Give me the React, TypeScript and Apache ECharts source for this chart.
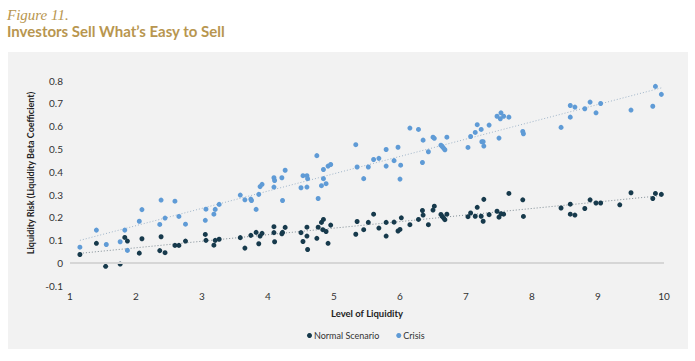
import React, { useEffect, useRef } from "react";
import * as echarts from "echarts";

const titleText = "Figure 11.";
const subtitleText = "Investors Sell What\u2019s Easy to Sell";
const xAxisName = "Level of Liquidity";
const yAxisName = "Liquidity Risk (Liquidity Beta Coefficient)";
const seriesNames = ["Normal Scenario", "Crisis"];

const normalX = [
  1.15, 1.40, 1.54, 1.76, 1.83, 1.87, 2.05, 2.09, 2.36, 2.38, 2.44, 2.59, 2.65, 2.75,
  3.05, 3.06, 3.18, 3.20, 3.26, 3.58, 3.65, 3.74, 3.82, 3.86, 3.88, 3.91, 4.09, 4.09,
  4.10, 4.21, 4.22, 4.26, 4.50, 4.53, 4.59, 4.59, 4.60, 4.74, 4.76, 4.81, 4.84, 4.83,
  4.88, 4.91, 4.95, 5.33, 5.35, 5.45, 5.52, 5.60, 5.68, 5.79, 5.79, 5.91, 5.97, 6.00,
  6.02, 6.15, 6.28, 6.34, 6.35, 6.43, 6.50, 6.52, 6.62, 6.64, 6.66, 6.68, 6.71, 7.03,
  7.07, 7.14, 7.17, 7.23, 7.26, 7.27, 7.35, 7.47, 7.50, 7.53, 7.57, 7.65, 7.86, 7.87,
  8.44, 8.58, 8.58, 8.65, 8.80, 8.88, 8.97, 9.04, 9.33, 9.50, 9.83, 9.87, 9.96,
];
const normalY = [
  0.037, 0.086, -0.015, -0.005, 0.112, 0.096, 0.043, 0.106, 0.054, 0.115, 0.045, 0.077, 0.077, 0.096,
  0.125, 0.099, 0.078, 0.099, 0.104, 0.111, 0.065, 0.121, 0.134, 0.084, 0.118, 0.130, 0.159, 0.133,
  0.093, 0.128, 0.134, 0.156, 0.133, 0.094, 0.157, 0.118, 0.059, 0.108, 0.157, 0.178, 0.191, 0.146,
  0.138, 0.086, 0.166, 0.126, 0.182, 0.146, 0.178, 0.214, 0.153, 0.178, 0.118, 0.179, 0.140, 0.147,
  0.198, 0.168, 0.191, 0.230, 0.210, 0.168, 0.232, 0.249, 0.213, 0.204, 0.198, 0.190, 0.214, 0.203,
  0.219, 0.205, 0.244, 0.205, 0.183, 0.279, 0.212, 0.227, 0.201, 0.216, 0.214, 0.305, 0.277, 0.204,
  0.241, 0.258, 0.214, 0.210, 0.239, 0.277, 0.263, 0.263, 0.255, 0.308, 0.283, 0.305, 0.301,
];

const crisisX = [
  1.15, 1.40, 1.55, 1.76, 1.83, 1.87, 2.05, 2.09, 2.36, 2.38, 2.44, 2.59, 2.65, 2.75,
  3.05, 3.06, 3.18, 3.20, 3.26, 3.58, 3.65, 3.74, 3.75, 3.82, 3.86, 3.88, 3.91, 4.09,
  4.10, 4.09, 4.21, 4.22, 4.26, 4.50, 4.53, 4.59, 4.59, 4.60, 4.74, 4.76, 4.81, 4.84,
  4.84, 4.88, 4.91, 4.95, 5.33, 5.35, 5.45, 5.52, 5.60, 5.68, 5.79, 5.79, 5.91, 5.97,
  6.00, 6.01, 6.15, 6.28, 6.34, 6.35, 6.43, 6.50, 6.52, 6.62, 6.64, 6.66, 6.68, 6.71,
  7.03, 7.07, 7.14, 7.17, 7.23, 7.24, 7.26, 7.27, 7.35, 7.47, 7.50, 7.52, 7.53, 7.57,
  7.65, 7.86, 7.87, 8.44, 8.58, 8.58, 8.65, 8.80, 8.88, 8.97, 9.04, 9.33, 9.50, 9.83,
  9.87, 9.96,
];
const crisisY = [
  0.069, 0.144, 0.081, 0.093, 0.144, 0.055, 0.183, 0.234, 0.169, 0.276, 0.197, 0.271, 0.204, 0.170,
  0.187, 0.236, 0.214, 0.235, 0.257, 0.298, 0.277, 0.280, 0.274, 0.235, 0.301, 0.335, 0.345, 0.374,
  0.362, 0.333, 0.374, 0.274, 0.407, 0.330, 0.383, 0.383, 0.333, 0.370, 0.471, 0.283, 0.339, 0.410,
  0.370, 0.348, 0.425, 0.432, 0.519, 0.421, 0.370, 0.421, 0.454, 0.459, 0.498, 0.425, 0.449, 0.508,
  0.368, 0.429, 0.592, 0.586, 0.441, 0.539, 0.488, 0.552, 0.547, 0.517, 0.511, 0.504, 0.497, 0.552,
  0.507, 0.555, 0.573, 0.607, 0.586, 0.532, 0.532, 0.513, 0.605, 0.644, 0.548, 0.633, 0.659, 0.644,
  0.640, 0.577, 0.567, 0.595, 0.691, 0.640, 0.684, 0.677, 0.706, 0.659, 0.700, 0.801, 0.671, 0.688,
  0.775, 0.740,
];

// trend line endpoints [x, y]
const normalTrend = [
  [1.15, 0.042],
  [9.98, 0.296],
];
const crisisTrend = [
  [1.15, 0.099],
  [9.98, 0.77],
];

const xTicks = { min: 1, max: 10, interval: 1 };
const yTicks = { min: -0.1, max: 0.8, interval: 0.1 };

const GOLD = "#b8964f";
const NAVY = "#173a4c";
const BLUE = "#5f9bd6";
const FONT = "Lato";

export default function App() {
  const ref = useRef<HTMLDivElement>(null);

  useEffect(() => {
    if (!ref.current) return;
    const chart = echarts.init(ref.current, undefined, { renderer: "svg" });
    const normalData = normalX.map((x, i) => [x, normalY[i]]);
    const crisisData = crisisX.map((x, i) => [x, crisisY[i]]);

    chart.setOption({
      animation: false,
      backgroundColor: "#ffffff",
      textStyle: { fontFamily: FONT },
      title: [
        {
          text: titleText,
          left: 7,
          top: 7,
          padding: 0,
          textStyle: {
            fontFamily: "Liberation Serif",
            fontStyle: "italic",
            fontWeight: "normal",
            fontSize: 15,
            color: GOLD,
          },
        },
        {
          text: subtitleText,
          left: 7,
          top: 23,
          padding: 0,
          textStyle: {
            fontFamily: FONT,
            fontWeight: "bold",
            fontSize: 15,
            color: GOLD,
          },
        },
      ],
      graphic: [
        {
          type: "rect",
          z: -100,
          silent: true,
          shape: { x: 8, y: 52, width: 680, height: 297 },
          style: { fill: "#f2f2f2" },
        },
        {
          type: "text",
          z: 10,
          x: 30,
          y: 173,
          rotation: Math.PI / 2,
          silent: true,
          style: {
            text: yAxisName,
            align: "center",
            verticalAlign: "middle",
            fontFamily: FONT,
            fontWeight: "bold",
            fontSize: 9,
            fill: "#222222",
          },
        },
      ],
      legend: {
        data: seriesNames,
        left: 307,
        top: 331,
        icon: "circle",
        itemWidth: 5,
        itemHeight: 5,
        itemGap: 17,
        padding: 0,
        textStyle: { fontFamily: FONT, fontSize: 9, color: "#333333", padding: [0, 0, 0, -3] },
      },
      grid: { left: 70, right: 31, top: 80.7, bottom: 75.3 },
      xAxis: {
        type: "value",
        min: xTicks.min,
        max: xTicks.max,
        interval: xTicks.interval,
        name: xAxisName,
        nameLocation: "middle",
        nameGap: 23,
        nameTextStyle: { fontFamily: FONT, fontWeight: "bold", fontSize: 9.5, color: "#222222" },
        axisLine: { show: false },
        axisTick: { show: false },
        splitLine: { show: false },
        axisLabel: { fontFamily: FONT, fontSize: 10, color: "#333333", margin: 5 },
      },
      yAxis: {
        type: "value",
        min: yTicks.min,
        max: yTicks.max,
        interval: yTicks.interval,
        axisLine: { show: false },
        axisTick: { show: false },
        splitLine: { show: false },
        axisLabel: {
          fontFamily: FONT,
          fontSize: 10,
          color: "#333333",
          margin: 7,
          formatter: (v: number) => String(Number(v.toFixed(1)) || 0),
        },
      },
      series: [
        {
          name: "Normal trend",
          type: "line",
          data: normalTrend,
          showSymbol: false,
          symbol: "none",
          z: 1,
          silent: true,
          lineStyle: { color: "#7f8c94", width: 1, type: [1, 2] },
          markLine: {
            silent: true,
            symbol: "none",
            label: { show: false },
            lineStyle: { color: "#d6d6d6", width: 2, type: "solid" },
            data: [{ yAxis: 0 }],
          },
        },
        {
          name: "Crisis trend",
          type: "line",
          data: crisisTrend,
          showSymbol: false,
          symbol: "none",
          z: 1,
          silent: true,
          lineStyle: { color: "#9fb4c8", width: 1, type: [1, 2] },
        },
        {
          name: seriesNames[0],
          type: "scatter",
          data: normalData,
          symbolSize: 5,
          z: 3,
          itemStyle: { color: NAVY, opacity: 1 },
        },
        {
          name: seriesNames[1],
          type: "scatter",
          data: crisisData,
          symbolSize: 5,
          z: 3,
          itemStyle: { color: BLUE, opacity: 1 },
        },
      ],
    });

    return () => chart.dispose();
  }, []);

  return (
    <div
      ref={ref}
      style={{ position: "absolute", left: 0, top: 0, width: 695, height: 361 }}
    />
  );
}
